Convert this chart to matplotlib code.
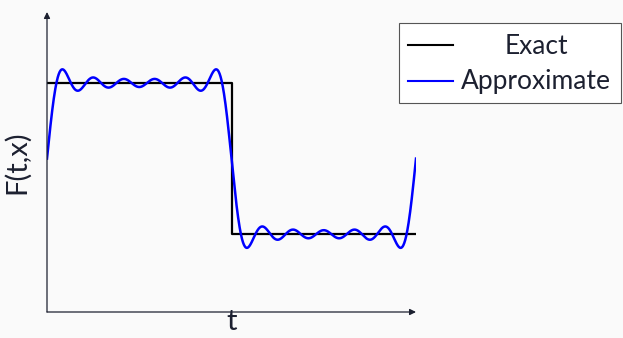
import matplotlib.pyplot as plt
import numpy as np
from matplotlib.lines import Line2D
from matplotlib.patches import Rectangle

# square wave over one period and its truncated Fourier series
t_exact = [0.0, np.pi, np.pi, 2 * np.pi]
f_exact = [1.0, 1.0, -1.0, -1.0]
harmonics = [1, 3, 5, 7, 9, 11]
amplitudes = [4 / (np.pi * n) for n in harmonics]
labels = ['Exact', 'Approximate']
colors = ['black', '#0000ff']

t = np.linspace(0, 2 * np.pi, 1200)
f_approx = sum(a * np.sin(n * t) for n, a in zip(harmonics, amplitudes))

ink = '#1c2030'
W, H = 623, 338
plt.rcParams['font.family'] = ['Lato', 'DejaVu Sans']

fig = plt.figure(figsize=(W / 100, H / 100), dpi=100, facecolor='#fafafa')
ax = fig.add_axes([47 / W, 26 / H, 369 / W, 300 / H])
ax.set_facecolor('#fafafa')

ax.plot(t_exact, f_exact, color=colors[0], lw=1.6)
ax.plot(t, f_approx, color=colors[1], lw=1.8)

ax.set_xlim(0, 2 * np.pi)
ax.set_ylim(-2.03, 1.94)
for s in ax.spines.values():
    s.set_visible(False)
ax.set_xticks([])
ax.set_yticks([])
arrow = dict(arrowstyle='-|>', color=ink, lw=0.9, mutation_scale=9, shrinkA=0, shrinkB=0)
ax.annotate('', xy=(1, 0), xytext=(0, 0), xycoords='axes fraction', arrowprops=arrow)
ax.annotate('', xy=(0, 1), xytext=(0, 0), xycoords='axes fraction', arrowprops=arrow)

ax.set_xlabel('t', fontsize=21, color=ink, labelpad=-2)
ax.set_ylabel('F(t,x)', fontsize=21, color=ink, labelpad=12)

# legend box with centred entries, as in the original
fig.patches.append(Rectangle((399 / W, 1 - 103 / H), 222 / W, 80 / H, transform=fig.transFigure,
                             facecolor='white', edgecolor='#555555', lw=0.8))
for i, (lab, col) in enumerate(zip(labels, colors)):
    yl = 1 - (45 + 36 * i) / H
    fig.add_artist(Line2D([408 / W, 453 / W], [yl, yl], transform=fig.transFigure, color=col, lw=1.5))
    fig.text(536 / W, 1 - (54 + 35 * i) / H, lab, ha='center', va='baseline', fontsize=19, color=ink)

fig.savefig('out.png', dpi=100, facecolor=fig.get_facecolor())
